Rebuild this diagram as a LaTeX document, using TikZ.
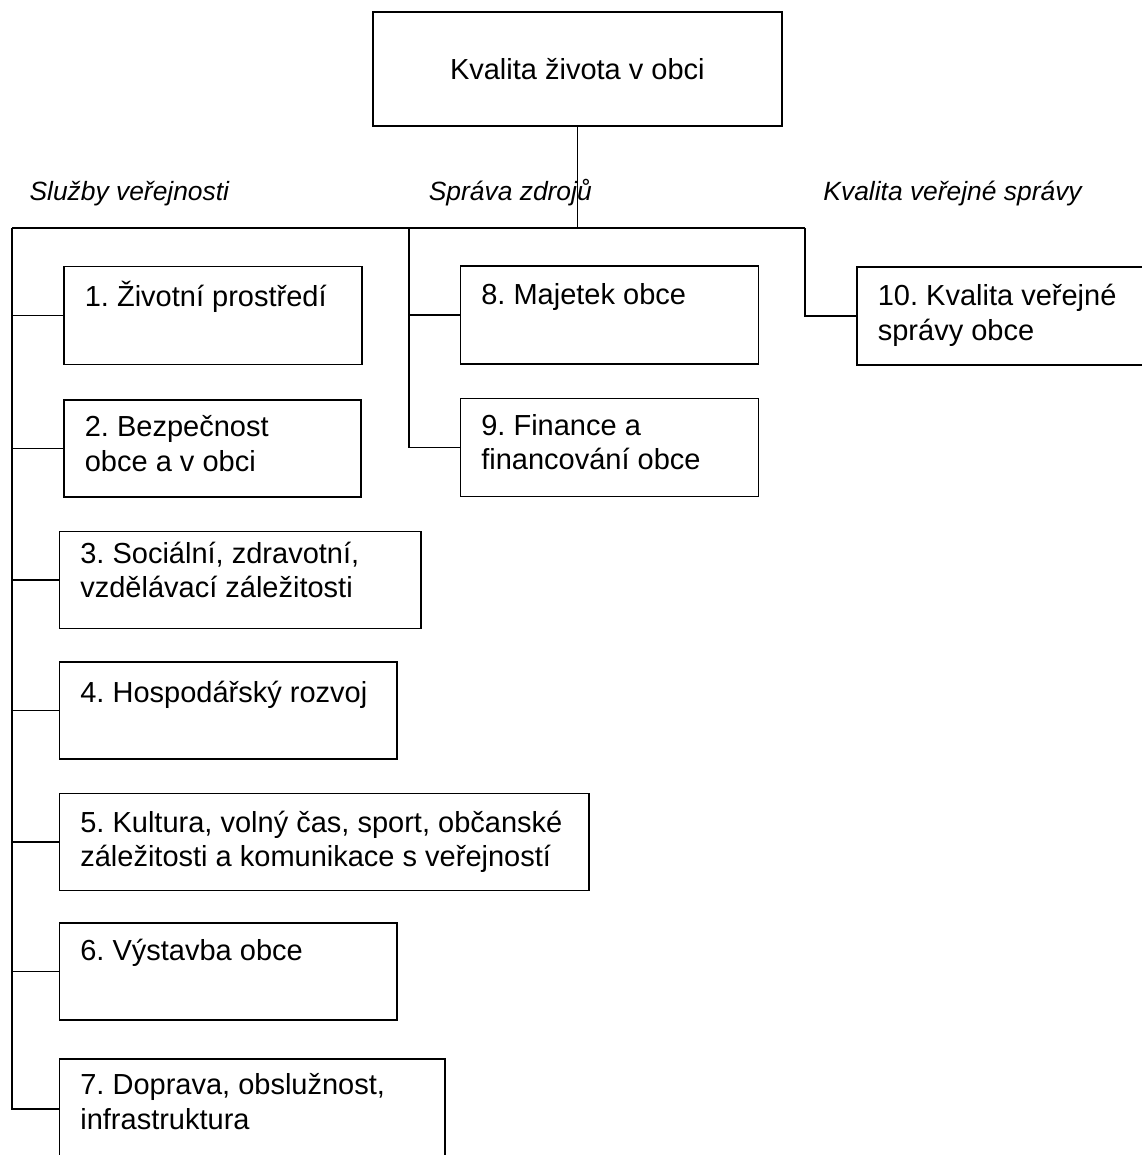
\documentclass[tikz,border=0pt]{standalone}
\usepackage{fontspec}
\setmainfont{Liberation Sans}
\usetikzlibrary{calc}
\newcommand{\fl}{\rule{0pt}{14pt}}
\frenchspacing
\begin{document}
\begin{tikzpicture}[x=0.5pt,y=-0.5pt,line width=0.85pt,
  box/.style={draw, inner sep=0pt, anchor=north west},
  btxt/.style={anchor=north west, inner sep=0pt, align=left, font=\fontsize{14.5}{17.2}\selectfont},
  lab/.style={anchor=base west, inner sep=0pt, font=\fontsize{13.2}{16}\selectfont\itshape}]
\useasboundingbox[fill=white] (0,0) rectangle (1141,1155);

% top box
\node[box, minimum width=204.5pt, minimum height=57pt, font=\fontsize{14.5}{17}\selectfont] (top) at (372,11) {Kvalita života v obci};

% group labels
\node[lab] (l1) at (28.7,200) {Služby veřejnosti};
\node[lab] (l2) at (428,200) {Správa zdrojů};
\node[lab] (l3) at (822.6,200) {Kvalita veřejné správy};

% boxes, left column
\node[box, minimum width=149pt, minimum height=49pt] (b1) at (63,265.5) {};
\node[btxt] (t1) at ($(b1.north west)+(21,12)$) {\fl 1. Životní prostředí};
\node[box, minimum width=148.5pt, minimum height=48.5pt] (b2) at (63,399) {};
\node[btxt] (t2) at ($(b2.north west)+(21,9)$) {\fl 2. Bezpečnost\\obce a v obci};
\node[box, minimum width=180.75pt, minimum height=48.5pt] (b3) at (58.5,530.5) {};
\node[btxt] (t3) at ($(b3.north west)+(21,4)$) {\fl 3. Sociální, zdravotní,\\vzdělávací záležitosti};
\node[box, minimum width=168.75pt, minimum height=48.5pt] (b4) at (58.5,661) {};
\node[btxt] (t4) at ($(b4.north west)+(21,13)$) {\fl 4. Hospodářský rozvoj};
\node[box, minimum width=264.75pt, minimum height=48.5pt] (b5) at (58.5,792.5) {};
\node[btxt] (t5) at ($(b5.north west)+(21,11)$) {\fl 5. Kultura, volný čas, sport, občanské\\záležitosti a komunikace s veřejností};
\node[box, minimum width=168.75pt, minimum height=48.5pt] (b6) at (58.5,922) {};
\node[btxt] (t6) at ($(b6.north west)+(21,10)$) {\fl 6. Výstavba obce};
\node[box, minimum width=192.75pt, minimum height=50pt] (b7) at (58.5,1058) {};
\node[btxt] (t7) at ($(b7.north west)+(21,8)$) {\fl 7. Doprava, obslužnost,\\infrastruktura};

% middle column
\node[box, minimum width=149pt, minimum height=49pt] (b8) at (459.5,265) {};
\node[btxt] (t8) at ($(b8.north west)+(21,11)$) {\fl 8. Majetek obce};
\node[box, minimum width=149pt, minimum height=49pt] (b9) at (459.5,397.5) {};
\node[btxt] (t9) at ($(b9.north west)+(21,9)$) {\fl 9. Finance a\\financování obce};

% right column
\node[box, minimum width=147.5pt, minimum height=49pt] (b10) at (856,266) {};
\node[btxt] (t10) at ($(b10.north west)+(21,11)$) {\fl 10. Kvalita veřejné\\správy obce};

% connectors
\coordinate (jL) at (12,228);
\coordinate (jM) at (409,228);
\coordinate (jR) at (805,228);
\draw (top.south) -- (top.south |- jL);
\draw (jL) -- (jR);
\draw (jL) |- (b7.west);
\foreach \b in {b1,b2,b3,b4,b5,b6}{\draw (jL |- \b.west) -- (\b.west);}
\draw (jM) |- (b9.west);
\draw (jM |- b8.west) -- (b8.west);
\draw (jR) |- (b10.west);
\end{tikzpicture}
\end{document}
